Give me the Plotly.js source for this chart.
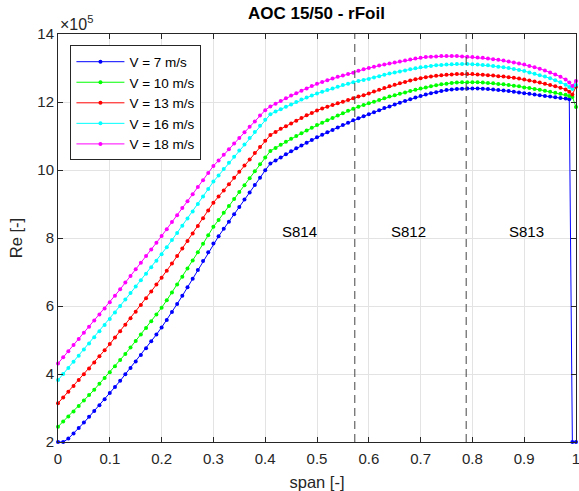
<!DOCTYPE html>
<html>
<head>
<meta charset="utf-8">
<script src="https://cdn.plot.ly/plotly-3.0.1.min.js"></script>
<style>
html,body{margin:0;padding:0;background:#fff;}
#chart{width:579px;height:491px;}
</style>
</head>
<body>
<div id="chart"></div>
<script>
// span positions [-]
const span = [0,0.01,0.02,0.03,0.04,0.05,0.06,0.07,0.08,0.09,
  0.10,0.11,0.12,0.13,0.14,0.15,0.16,0.17,0.18,0.19,
  0.20,0.21,0.22,0.23,0.24,0.25,0.26,0.27,0.28,0.29,
  0.30,0.31,0.32,0.33,0.34,0.35,0.36,0.37,0.38,0.39,
  0.40,0.41,0.42,0.43,0.44,0.45,0.46,0.47,0.48,0.49,
  0.50,0.51,0.52,0.53,0.54,0.55,0.56,0.57,0.58,0.59,
  0.60,0.61,0.62,0.63,0.64,0.65,0.66,0.67,0.68,0.69,
  0.70,0.71,0.72,0.73,0.74,0.75,0.76,0.77,0.78,0.79,
  0.80,0.81,0.82,0.83,0.84,0.85,0.86,0.87,0.88,0.89,
  0.90,0.91,0.92,0.93,0.94,0.95,0.96,0.97,0.98,0.987,0.993,1.0];

// Reynolds number, in units of 1e5
const re_v7 = [2.00,2.00,2.10,2.25,2.41,2.57,2.74,2.91,3.08,3.26,
  3.44,3.62,3.80,3.99,4.18,4.37,4.56,4.76,4.96,5.16,
  5.37,5.59,5.82,6.06,6.30,6.55,6.80,7.06,7.32,7.58,
  7.84,8.05,8.27,8.48,8.70,8.91,9.13,9.34,9.56,9.77,
  9.99,10.19,10.28,10.37,10.46,10.55,10.64,10.72,10.80,10.88,
  10.96,11.04,11.11,11.18,11.25,11.32,11.39,11.46,11.52,11.58,
  11.64,11.70,11.76,11.82,11.87,11.93,11.98,12.03,12.08,12.13,
  12.18,12.22,12.26,12.29,12.32,12.35,12.37,12.38,12.39,12.40,
  12.40,12.40,12.39,12.38,12.37,12.35,12.34,12.32,12.30,12.28,
  12.26,12.24,12.22,12.20,12.18,12.16,12.14,12.12,12.10,12.08,2.00,2.00];

const re_v10 = [2.45,2.60,2.75,2.90,3.06,3.22,3.38,3.54,3.71,3.88,
  4.05,4.23,4.41,4.59,4.78,4.97,5.16,5.35,5.55,5.75,
  5.95,6.17,6.40,6.63,6.86,7.10,7.34,7.58,7.83,8.08,
  8.33,8.53,8.74,8.94,9.15,9.35,9.55,9.76,9.96,10.17,
  10.37,10.56,10.65,10.74,10.83,10.92,11.00,11.08,11.16,11.24,
  11.32,11.39,11.46,11.53,11.60,11.67,11.74,11.80,11.86,11.91,
  11.96,12.01,12.06,12.11,12.16,12.20,12.24,12.28,12.32,12.36,
  12.40,12.43,12.46,12.49,12.52,12.54,12.56,12.57,12.58,12.58,
  12.58,12.58,12.57,12.56,12.55,12.53,12.52,12.50,12.48,12.46,
  12.43,12.41,12.38,12.36,12.33,12.30,12.27,12.24,12.21,12.18,12.15,11.85];

const re_v13 = [3.14,3.31,3.48,3.65,3.82,3.99,4.16,4.34,4.52,4.70,
  4.88,5.07,5.26,5.45,5.64,5.83,6.03,6.23,6.43,6.63,
  6.83,7.04,7.25,7.47,7.69,7.91,8.13,8.35,8.58,8.81,
  9.04,9.22,9.40,9.58,9.77,9.95,10.13,10.31,10.50,10.68,
  10.86,11.03,11.12,11.21,11.29,11.37,11.45,11.53,11.61,11.68,
  11.75,11.81,11.86,11.91,11.96,12.01,12.06,12.11,12.16,12.20,
  12.25,12.31,12.36,12.41,12.46,12.51,12.55,12.59,12.63,12.67,
  12.70,12.73,12.75,12.77,12.79,12.80,12.81,12.82,12.82,12.82,
  12.82,12.81,12.80,12.79,12.78,12.76,12.75,12.73,12.71,12.69,
  12.66,12.63,12.60,12.57,12.54,12.50,12.46,12.42,12.37,12.30,12.22,12.45];

const re_v16 = [3.82,4.00,4.18,4.36,4.54,4.72,4.90,5.08,5.26,5.44,
  5.62,5.81,6.00,6.19,6.38,6.57,6.76,6.95,7.14,7.33,
  7.52,7.73,7.94,8.15,8.36,8.57,8.78,9.00,9.22,9.44,
  9.66,9.84,10.03,10.21,10.39,10.57,10.75,10.94,11.12,11.30,
  11.48,11.64,11.72,11.79,11.86,11.93,12.00,12.07,12.13,12.19,
  12.25,12.30,12.35,12.40,12.45,12.50,12.54,12.58,12.62,12.65,
  12.68,12.72,12.76,12.80,12.84,12.87,12.90,12.93,12.96,12.99,
  13.02,13.04,13.06,13.08,13.09,13.10,13.11,13.12,13.12,13.12,
  13.11,13.10,13.09,13.08,13.06,13.04,13.02,13.00,12.97,12.94,
  12.91,12.87,12.83,12.79,12.75,12.70,12.64,12.58,12.51,12.44,12.38,12.50];

const re_v18 = [4.31,4.49,4.67,4.85,5.03,5.21,5.39,5.57,5.75,5.93,
  6.11,6.30,6.49,6.69,6.88,7.08,7.27,7.47,7.66,7.86,
  8.06,8.26,8.47,8.67,8.88,9.08,9.29,9.50,9.70,9.91,
  10.12,10.28,10.45,10.61,10.78,10.94,11.11,11.27,11.43,11.60,
  11.76,11.87,11.95,12.03,12.11,12.19,12.26,12.33,12.40,12.47,
  12.54,12.59,12.64,12.69,12.74,12.78,12.82,12.86,12.92,12.96,
  13.00,13.04,13.07,13.10,13.13,13.16,13.19,13.22,13.25,13.28,
  13.30,13.32,13.33,13.34,13.35,13.35,13.35,13.35,13.34,13.33,
  13.32,13.31,13.30,13.28,13.26,13.24,13.22,13.19,13.16,13.13,
  13.10,13.06,13.02,12.98,12.93,12.87,12.81,12.74,12.66,12.57,12.47,12.62];

const seriesNames = ['V = 7 m/s','V = 10 m/s','V = 13 m/s','V = 16 m/s','V = 18 m/s'];
const seriesColors = ['#0000ff','#00ff00','#ff0000','#00ffff','#ff00ff'];
const seriesData = [re_v7, re_v10, re_v13, re_v16, re_v18];

// airfoil section boundaries and labels
const boundaries = [0.573, 0.788];
const sectionLabels = ['S814','S812','S813'];
const sectionLabelX = [0.428, 0.639, 0.866];
const sectionLabelY = 8.2;

const yTicks = [2,4,6,8,10,12,14];

const FONT = 'Liberation Sans, Arial, Helvetica, sans-serif';
const AX = '#262626';

const traces = seriesData.map((ys, i) => ({
  type: 'scatter', mode: 'lines+markers',
  x: span, y: ys, name: seriesNames[i],
  line: {color: seriesColors[i], width: 1},
  marker: {color: seriesColors[i], size: 4},
  cliponaxis: false
}));

boundaries.forEach(b => traces.push({
  type: 'scatter', mode: 'lines', x: [b, b], y: [2, 14],
  line: {color: '#444444', width: 1, dash: '8px,5px'},
  showlegend: false, hoverinfo: 'skip'
}));

const annotations = sectionLabels.map((t, i) => ({
  x: sectionLabelX[i], y: sectionLabelY, xref: 'x', yref: 'y',
  text: t, showarrow: false, xanchor: 'left', yanchor: 'middle',
  font: {family: FONT, size: 15, color: '#000'}
}));
annotations.push({
  x: 0, y: 1, xref: 'paper', yref: 'paper', xanchor: 'left', yanchor: 'bottom',
  text: '×10<sup>5</sup>', showarrow: false, yshift: -1,
  font: {family: FONT, size: 16, color: AX}
});

const layout = {
  width: 579, height: 491,
  margin: {l: 58, r: 3, t: 34, b: 49, pad: 0},
  paper_bgcolor: '#fff', plot_bgcolor: '#fff',
  font: {family: FONT, size: 15, color: AX},
  title: {text: '<b>AOC 15/50 - rFoil</b>', x: 0.5465, xanchor: 'center', y: 0.985, yanchor: 'top',
          font: {family: FONT, size: 17, color: '#000'}},
  xaxis: {
    range: [0, 1], dtick: 0.1, tick0: 0,
    showgrid: true, gridcolor: '#e3e3e3', zeroline: false,
    showline: true, linecolor: AX, linewidth: 1, mirror: 'ticks',
    ticks: 'inside', ticklen: 5, tickcolor: AX,
    ticklabeloverflow: 'allow', ticklabelstandoff: 3,
    tickfont: {family: FONT, size: 15, color: AX},
    title: {text: 'span [-]', font: {family: FONT, size: 16.5, color: AX}, standoff: 10}
  },
  yaxis: {
    range: [2, 14], tickvals: yTicks,
    showgrid: true, gridcolor: '#e3e3e3', zeroline: false,
    showline: true, linecolor: AX, linewidth: 1, mirror: 'ticks',
    ticks: 'inside', ticklen: 5, tickcolor: AX,
    tickfont: {family: FONT, size: 15, color: AX},
    title: {text: 'Re [-]', font: {family: FONT, size: 16.5, color: AX}, standoff: 10}
  },
  legend: {
    x: 0.024, y: 0.972, xanchor: 'left', yanchor: 'top',
    bgcolor: '#fff', bordercolor: AX, borderwidth: 1,
    font: {family: FONT, size: 13.5, color: '#000'},
    itemwidth: 48,
    tracegroupgap: 0
  },
  annotations: annotations,
  showlegend: true
};

Plotly.newPlot('chart', traces, layout, {staticPlot: true, displayModeBar: false});
</script>
</body>
</html>
